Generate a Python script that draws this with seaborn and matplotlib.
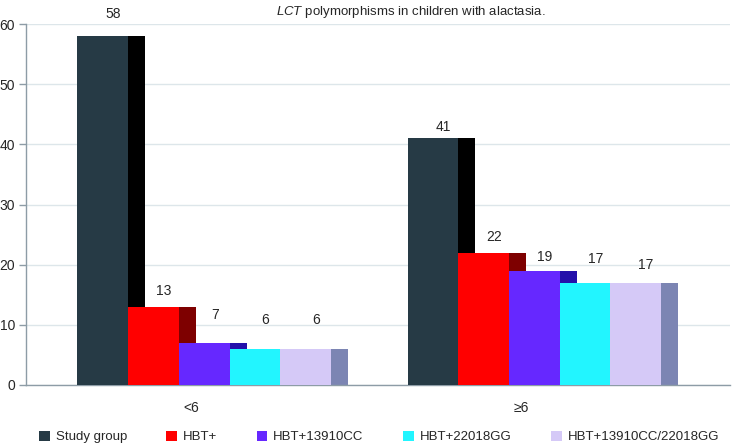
import matplotlib
matplotlib.use("Agg")
import matplotlib.pyplot as plt
import numpy as np
import pandas as pd
import seaborn as sns

# data
GROUPS = ["<6", "≥6"]
SERIES = ["Study group", "HBT+", "HBT+13910CC", "HBT+22018GG", "HBT+13910CC/22018GG"]
STUDY = [58, 41]
HBT = [13, 22]
HBT_CC = [7, 19]
HBT_GG = [6, 17]
HBT_CC_GG = [6, 17]

FRONT = ["#263a45", "#ff0000", "#6628ff", "#22f5ff", "#d5c9f7"]
SIDE = ["#000000", "#7e0000", "#2410aa", "#12a8b0", "#7c85b3"]
AXIS_COL = "#8d9ca6"
GRID_COL = "#dde6ea"

# label lift above bar top (pixels), per group then series
LIFT = [[22, 16, 28, 29, 29], [11, 16, 14, 24, 18]]

sns.set_style("white")
plt.rcParams.update({
    "font.family": ["Liberation Sans", "DejaVu Sans"],
    "mathtext.fontset": "custom",
    "mathtext.rm": "Liberation Sans",
    "mathtext.it": "Liberation Sans:italic",
})

values = [STUDY, HBT, HBT_CC, HBT_GG, HBT_CC_GG]
df = pd.DataFrame({
    "age": np.tile(GROUPS, len(SERIES)),
    "series": np.repeat(SERIES, len(GROUPS)),
    "n": np.concatenate(values),
})

W, H = 734, 445
fig = plt.figure(figsize=(W / 100, H / 100), dpi=100)
ax = fig.add_axes([26 / W, 60 / H, 704 / W, 361 / H])

n = len(SERIES)
group_w = 0.768
bw = group_w / n        # front face width
sw = 0.0515             # side face width
shift = 0.04

sns.barplot(data=df, x="age", y="n", hue="series", hue_order=SERIES,
            order=GROUPS, palette=FRONT, width=group_w, gap=0,
            saturation=1, errorbar=None, linewidth=0, ax=ax, zorder=3)

handles, labels = ax.get_legend_handles_labels()
if ax.get_legend() is not None:
    ax.get_legend().remove()

for p in ax.patches:
    p.set_x(p.get_x() + shift)

# side faces and value labels
for j, vals in enumerate(values):
    lefts = np.arange(len(GROUPS)) - group_w / 2 + shift + j * bw
    ax.bar(lefts + bw, vals, width=sw, align="edge", color=SIDE[j],
           linewidth=0, zorder=2)
    for g, (x0, v) in enumerate(zip(lefts, vals)):
        ax.annotate(str(v), (x0 + (bw + sw) / 2 + 0.006, v),
                    xytext=(0, LIFT[g][j]), textcoords="offset pixels",
                    ha="center", va="center", fontsize=10)

ax.set_xlim(-0.5, 1.633)
ax.set_ylim(0, 60)
ax.set_yticks(range(0, 61, 10))
ax.set_xticks([0, 1])
ax.set_xticklabels(GROUPS)
ax.set_xticks([-0.5, 0.5, 1.5], minor=True)
ax.set_xlabel("")
ax.set_ylabel("")
ax.tick_params(axis="x", which="major", length=0, pad=11.5, labelsize=10)
ax.tick_params(axis="x", which="minor", length=4, color=AXIS_COL, width=1)
ax.tick_params(axis="y", length=5, color=AXIS_COL, width=1, pad=3,
               labelsize=10, left=True)
ax.yaxis.grid(True, color=GRID_COL, linewidth=1)
ax.set_axisbelow(True)
for side in ["top", "right"]:
    ax.spines[side].set_visible(False)
for side in ["left", "bottom"]:
    ax.spines[side].set_color(AXIS_COL)
    ax.spines[side].set_linewidth(1)

fig.text(411 / W, 1 - 12 / H,
         r"$\mathit{LCT}$ polymorphisms in children with alactasia.",
         ha="center", va="center", fontsize=9.5)

fig.legend(handles, labels, loc="center", bbox_to_anchor=(379 / W, 8 / H),
           ncol=5, frameon=False, fontsize=9.5, handlelength=0.8,
           handleheight=0.8, handletextpad=0.45, columnspacing=3.0,
           borderpad=0, borderaxespad=0)

fig.savefig("out.png", dpi=100)
